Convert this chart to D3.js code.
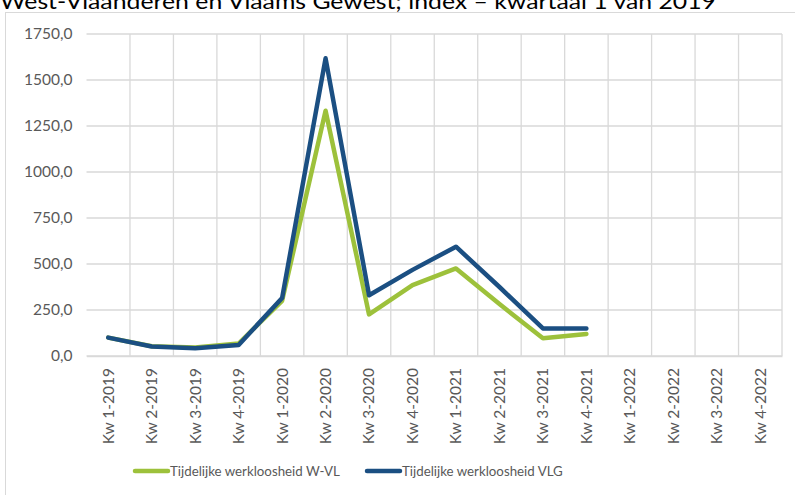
<!DOCTYPE html>
<html lang="nl">
<head>
<meta charset="utf-8">
<title>Tijdelijke werkloosheid index</title>
<script src="https://d3js.org/d3.v7.min.js"></script>
<style>
  body { margin: 0; background: #fff; }
  text { font-family: Lato, "Open Sans", sans-serif; }
</style>
</head>
<body>
<script>
// categories and values (index, kwartaal 1 van 2019 = 100)
var quarters = ["Kw 1-2019", "Kw 2-2019", "Kw 3-2019", "Kw 4-2019",
                "Kw 1-2020", "Kw 2-2020", "Kw 3-2020", "Kw 4-2020",
                "Kw 1-2021", "Kw 2-2021", "Kw 3-2021", "Kw 4-2021",
                "Kw 1-2022", "Kw 2-2022", "Kw 3-2022", "Kw 4-2022"];
var wvl = [100, 53, 46, 68, 300, 1333, 226, 385, 476, 282, 96, 120];
var vlg = [100, 52, 42, 60, 315, 1618, 330, 468, 594, 375, 150, 150];
var yTicks = [0, 250, 500, 750, 1000, 1250, 1500, 1750];
var seriesNames = ["Tijdelijke werkloosheid W-VL", "Tijdelijke werkloosheid VLG"];
var colors = ["#9dc13b", "#1b4f82"];

var w = 795, h = 495;
var plotL = 86.5, plotR = 782, plotT = 34, plotB = 356;

var svg = d3.select("body").append("svg")
    .attr("width", w).attr("height", h);

// title (cut off at the top)
svg.append("text")
    .attr("x", 0).attr("y", 9)
    .attr("font-size", 22)
    .attr("textLength", 716)
    .attr("lengthAdjust", "spacingAndGlyphs")
    .attr("fill", "#000")
    .text("West-Vlaanderen en Vlaams Gewest; index \u2013 kwartaal 1 van 2019");

// chart border
svg.append("rect")
    .attr("x", 5.5).attr("y", 12.5)
    .attr("width", w).attr("height", h)
    .attr("fill", "none").attr("stroke", "#d9d9d9");

var x = d3.scaleBand().domain(quarters).range([plotL, plotR]);
var y = d3.scaleLinear().domain([0, 1750]).range([plotB, plotT]);

// horizontal gridlines
svg.append("g").selectAll("line")
    .data(yTicks).enter().append("line")
    .attr("x1", plotL).attr("x2", plotR)
    .attr("y1", d => y(d)).attr("y2", d => y(d))
    .attr("stroke", "#d9d9d9").attr("stroke-width", 1.3);

// vertical gridlines between categories
svg.append("g").selectAll("line")
    .data(quarters).enter().append("line")
    .attr("x1", d => x(d) + x.bandwidth())
    .attr("x2", d => x(d) + x.bandwidth())
    .attr("y1", plotT).attr("y2", plotB)
    .attr("stroke", "#d9d9d9").attr("stroke-width", 1.3);

// y axis labels
var fmt = d => d3.format(".1f")(d).replace(".", ",");
var yAxis = d3.axisLeft(y).tickValues(yTicks).tickFormat(fmt).tickSize(0).tickPadding(14);
var gy = svg.append("g").attr("transform", "translate(" + plotL + ",0)").call(yAxis);
gy.select(".domain").remove();
gy.selectAll("text").attr("font-size", 15.5).attr("fill", "#595959")
    .style("font-family", "Lato, sans-serif");

// x axis
var xAxis = d3.axisBottom(x).tickSize(0).tickPadding(0);
var gx = svg.append("g").attr("transform", "translate(0," + plotB + ")").call(xAxis);
gx.select(".domain").attr("stroke", "#d9d9d9").attr("stroke-width", 1.3);
gx.selectAll("text")
    .attr("font-size", 15.5).attr("fill", "#595959")
    .style("font-family", "Lato, sans-serif")
    .attr("transform", "rotate(-90)")
    .attr("text-anchor", "end")
    .attr("x", -12).attr("y", 0).attr("dy", "0.35em");

// lines
var line = d3.line()
    .x((d, i) => x(quarters[i]) + x.bandwidth() / 2)
    .y(d => y(d));

[wvl, vlg].forEach(function(s, k) {
  svg.append("path")
      .attr("d", line(s))
      .attr("fill", "none")
      .attr("stroke", colors[k])
      .attr("stroke-width", 4.5)
      .attr("stroke-linejoin", "round")
      .attr("stroke-linecap", "round");
});

// legend
var legendX = [135, 367];
seriesNames.forEach(function(n, k) {
  var g = svg.append("g").attr("transform", "translate(" + legendX[k] + ",471)");
  g.append("line").attr("x1", 0).attr("x2", 33).attr("y1", 0).attr("y2", 0)
      .attr("stroke", colors[k]).attr("stroke-width", 4.5).attr("stroke-linecap", "round");
  g.append("text").attr("x", 35).attr("y", 0).attr("dy", "0.35em")
      .attr("font-size", 13.3).attr("fill", "#595959").text(n);
});
</script>
</body>
</html>
